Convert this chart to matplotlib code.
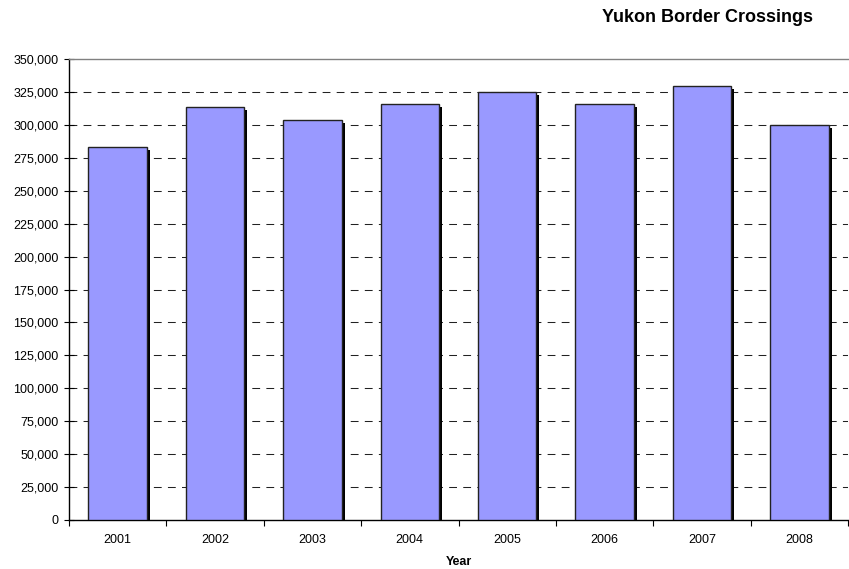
import matplotlib
matplotlib.use("Agg")
import matplotlib.pyplot as plt
import matplotlib.patheffects as pe
from matplotlib.ticker import FuncFormatter, FixedLocator
import numpy as np

plt.rcParams['font.family'] = ['Liberation Sans', 'DejaVu Sans']

years = ["2001", "2002", "2003", "2004", "2005", "2006", "2007", "2008"]
crossings = [283500, 313300, 303600, 316000, 324700, 315800, 329500, 300000]

fig = plt.figure(figsize=(8.49, 5.69), dpi=100)
ax = fig.add_axes([69/849, 1-520/569, (848-69)/849, (520-59)/569])

x = np.arange(len(years))
bars = ax.bar(x, crossings, width=0.6, color='#9999ff', edgecolor='#222222',
              linewidth=1.0, zorder=3)
for b in bars:
    b.set_path_effects([pe.SimplePatchShadow(offset=(2.2, -2.2), shadow_rgbFace='black', alpha=1.0),
                        pe.Normal()])

ax.set_xlim(-0.5, len(years) - 0.5)
ax.set_ylim(0, 350000)
ax.set_yticks(np.arange(0, 350001, 25000))
ax.yaxis.set_major_formatter(FuncFormatter(lambda v, p: f"{int(v):,}"))

ax.set_xticks(x)
ax.set_xticklabels(years)
ax.xaxis.set_minor_locator(FixedLocator(np.arange(-0.5, len(years), 1.0)))
ax.tick_params(axis='x', which='major', length=0, labelsize=9, pad=10)
ax.tick_params(axis='x', which='minor', length=4, width=0.8, direction='out', color='black')
ax.tick_params(axis='y', which='major', length=7, width=0.8, direction='inout', labelsize=9, pad=4)

for v in np.arange(25000, 350000, 25000):
    ax.axhline(v, color='#222222', linestyle=(0, (7.5, 6)), linewidth=0.75, zorder=1)

ax.spines['right'].set_visible(False)
ax.spines['top'].set_color('#808080')
ax.spines['top'].set_linewidth(1.0)
ax.spines['left'].set_color('black')
ax.spines['bottom'].set_color('black')
ax.spines['left'].set_linewidth(1.0)
ax.spines['bottom'].set_linewidth(1.0)

ax.set_xlabel("Year", fontsize=9, fontweight='bold', labelpad=7)
fig.text(813/849, 1-17/569, "Yukon Border Crossings", ha='right', va='center',
         fontsize=13, fontweight='bold')

fig.savefig("out.png", dpi=100)
